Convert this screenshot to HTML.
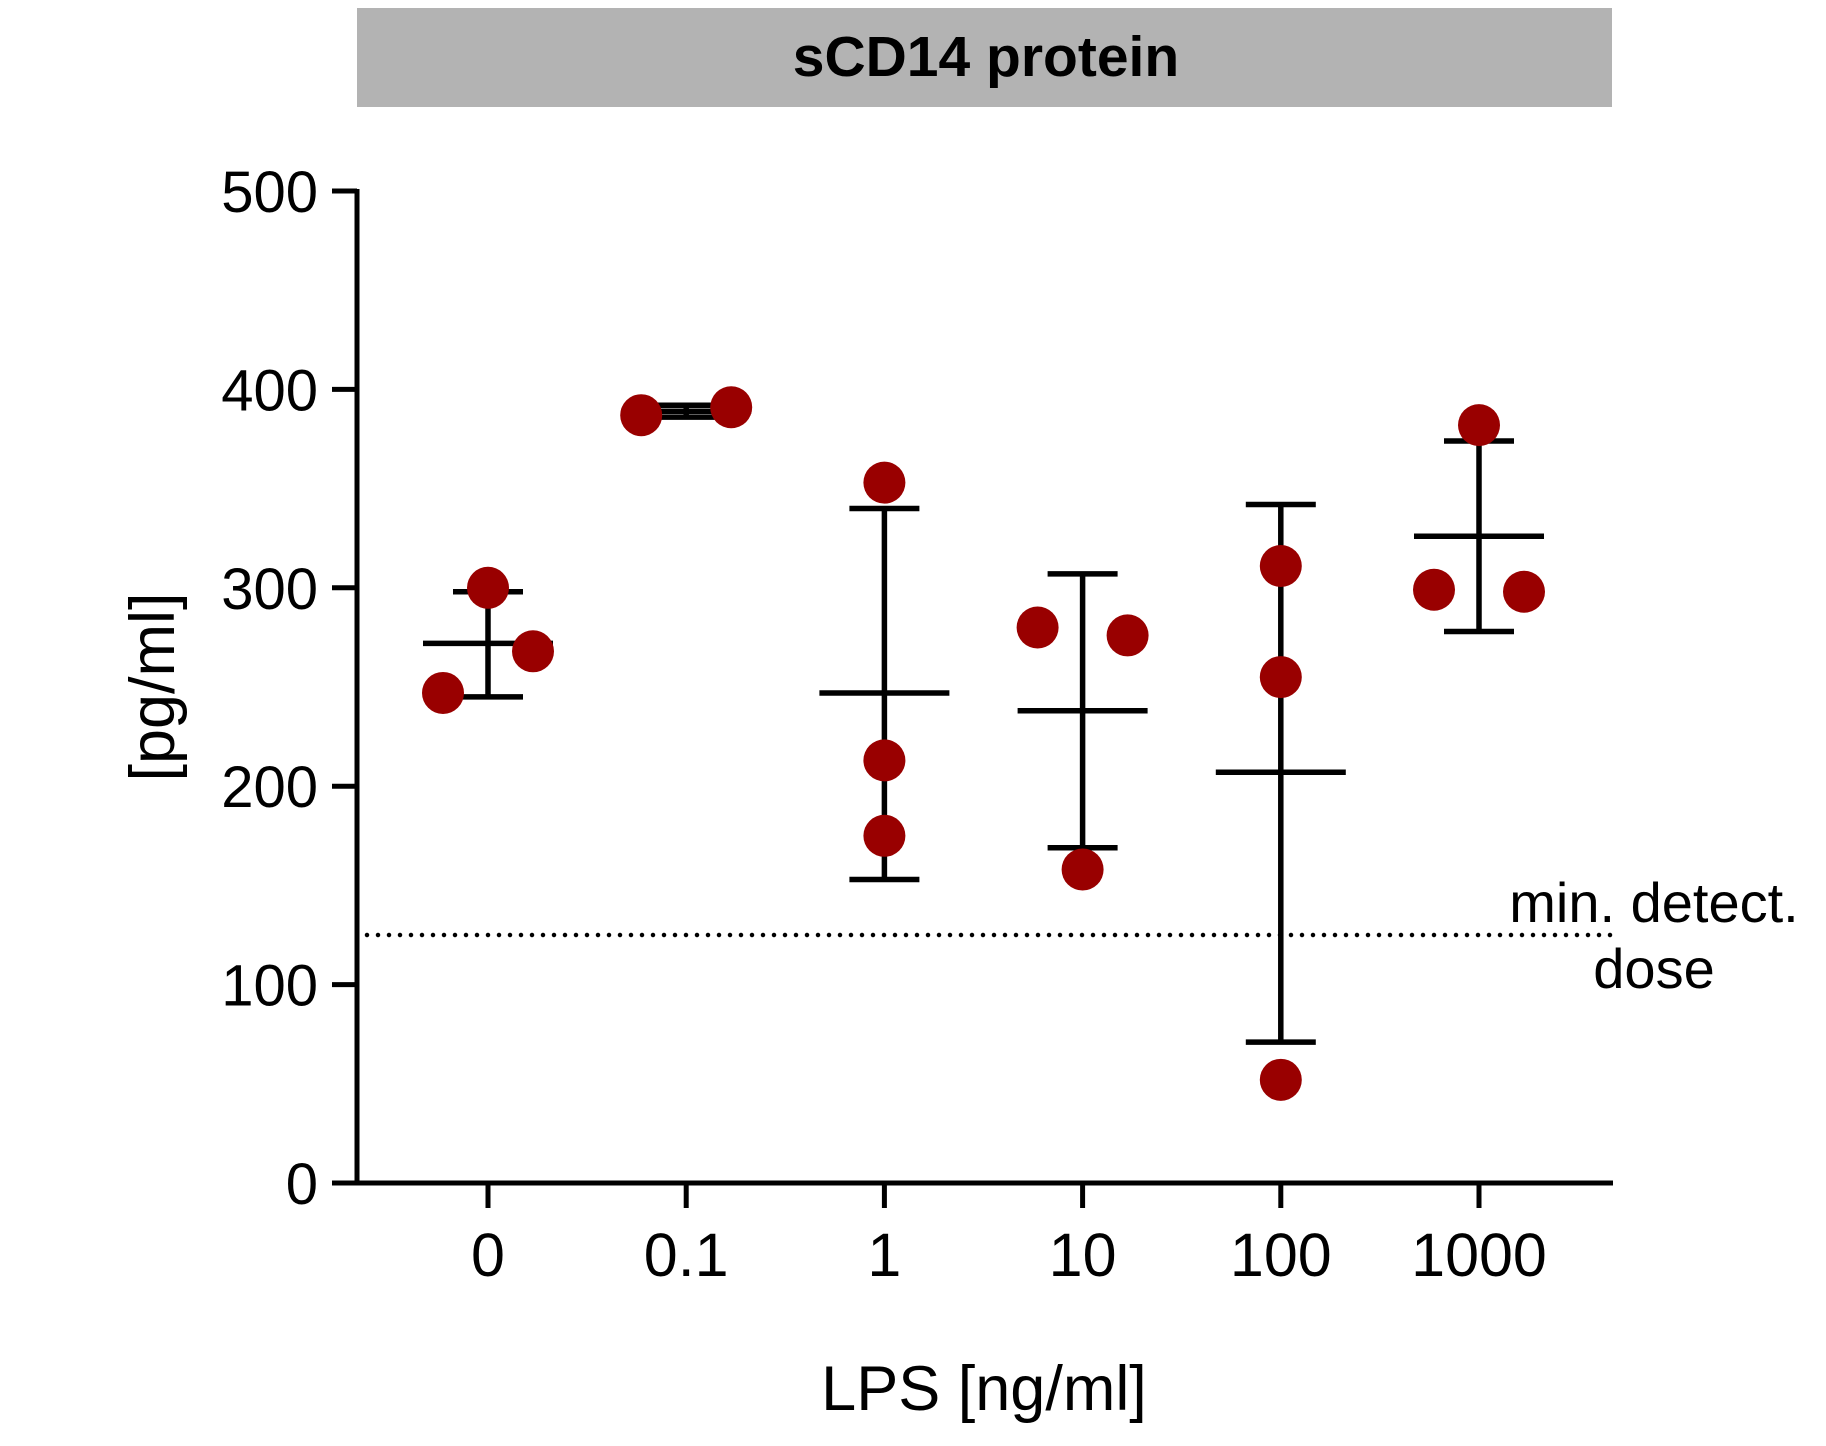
<!DOCTYPE html>
<html><head><meta charset="utf-8"><style>
html,body{margin:0;padding:0;background:#fff;}
svg{display:block;font-family:"Liberation Sans",Arial,sans-serif;}
</style></head><body>
<svg id="chart" width="1826" height="1446" viewBox="0 0 1826 1446">
<rect x="357" y="8" width="1255" height="99" fill="#b3b3b3"/>
<text x="986" y="76" text-anchor="middle" font-size="57" font-weight="bold">sCD14 protein</text>
<g id="axes"></g>
<g id="marks"></g>
<text x="984" y="1410" text-anchor="middle" font-size="63">LPS [ng/ml]</text>
<text transform="translate(174,687) rotate(-90)" text-anchor="middle" font-size="63">[pg/ml]</text>
<text x="1654" y="922" text-anchor="middle" font-size="56">min. detect.</text>
<text x="1654" y="988" text-anchor="middle" font-size="56">dose</text>
</svg>
<script>
const categories = ["0","0.1","1","10","100","1000"];
const yTicks = [0,100,200,300,400,500];
const pointValues = [[300,268,247],[387,391],[353,213,175],[280,276,158],[311,255,52],[382,299,298]];
const pointJitter = [[0,1,-1],[-1,1],[0,0,0],[-1,1,0],[0,0,0],[0,-1,1]];
const means = [272,389,247,238,207,326];
const sdUpper = [298,392,340,307,342,374];
const sdLower = [245,386,153,169,71,278];
const minDetect = 125;

const NS="http://www.w3.org/2000/svg";
const x0=357, x1=1613, yBase=1183, pxPer=1.984;
const catX0=488, catStep=198.2, jit=45;
function yS(v){return yBase - v*pxPer;}
function xS(i){return catX0 + i*catStep;}
function mk(tag,attrs,parent,text){const e=document.createElementNS(NS,tag);for(const k in attrs)e.setAttribute(k,attrs[k]);if(text!==undefined)e.textContent=text;parent.appendChild(e);return e;}
const axes=document.getElementById('axes'), marks=document.getElementById('marks');

let e;
e=mk('line',{x1:x0,y1:yS(500)-2,x2:x0,y2:yBase+2.5,stroke:'#000','stroke-width':5},axes);


e=mk('line',{x1:332,y1:yBase,x2:x1,y2:yBase,stroke:'#000','stroke-width':5},axes);


yTicks.forEach(t=>{
  const tk=mk('line',{x1:332,y1:yS(t),x2:x0,y2:yS(t),stroke:'#000','stroke-width':5},axes);
  
  
  const lb=mk('text',{x:318,y:yS(t)+21,'text-anchor':'end','font-size':58},axes,String(t));
  
  
});
categories.forEach((c,i)=>{
  const tk=mk('line',{x1:xS(i),y1:yBase,x2:xS(i),y2:1208,stroke:'#000','stroke-width':5},axes);
  
  
  const lb=mk('text',{x:xS(i),y:1276,'text-anchor':'middle','font-size':61},axes,c);
  
  
});
e=mk('line',{x1:367,y1:yS(minDetect),x2:1612,y2:yS(minDetect),stroke:'#000','stroke-width':4.5,'stroke-dasharray':'0 11','stroke-linecap':'round'},marks);



categories.forEach((c,i)=>{
  const cx=xS(i);
  const g=mk('g',{},marks);
  
  
  mk('line',{x1:cx,y1:yS(sdUpper[i]),x2:cx,y2:yS(sdLower[i]),stroke:'#000','stroke-width':5.5},g);
  mk('line',{x1:cx-35,y1:yS(sdUpper[i]),x2:cx+35,y2:yS(sdUpper[i]),stroke:'#000','stroke-width':5.5},g);
  mk('line',{x1:cx-35,y1:yS(sdLower[i]),x2:cx+35,y2:yS(sdLower[i]),stroke:'#000','stroke-width':5.5},g);
  mk('line',{x1:cx-65,y1:yS(means[i]),x2:cx+65,y2:yS(means[i]),stroke:'#000','stroke-width':5.5},g);
});
categories.forEach((c,i)=>{
  pointValues[i].forEach((v,j)=>{
    const p=mk('circle',{cx:xS(i)+pointJitter[i][j]*jit,cy:yS(v),r:21,fill:'#990000'},marks);
    
    
  });
});
</script>
</body></html>
